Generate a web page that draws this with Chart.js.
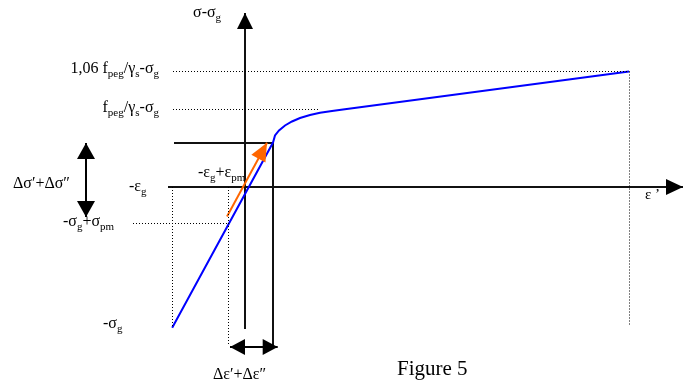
<!DOCTYPE html>
<html>
<head>
<meta charset="utf-8">
<script src="https://cdn.jsdelivr.net/npm/chart.js@4"></script>
<style>
  html, body { margin: 0; padding: 0; background: #ffffff; }
  canvas { display: block; }
</style>
</head>
<body>
<canvas id="c" width="688" height="382"></canvas>
<script>
// ---- Data (diagram units: strain on x, stress on y, origin at axis crossing) ----
const blueStrain = [-7.28, 2.8, 3.0, 3.4, 4.0, 4.7, 5.5, 6.5, 7.5, 8.7, 9.8, 38.4];
const blueStress = [-14.08, 4.45, 5.15, 5.65, 6.15, 6.55, 6.9, 7.2, 7.42, 7.6, 7.75, 11.55];

const orangeStrain = [-1.8, 2.2];
const orangeStress = [-2.95, 4.42];

// solid black segments: [x1, y1, x2, y2]
const axisStressSeg = [0, -14.2, 0, 17.4];
const axisStrainSeg = [-7.7, 0, 43.8, 0];
const boxTopSeg = [-7.1, 4.4, 2.8, 4.4];
const boxRightSeg = [2.8, 4.4, 2.8, -16.0];
const deltaSigmaSeg = [-15.9, 4.4, -15.9, -3.0];
const deltaEpsSeg = [-1.5, -16.0, 3.27, -16.0];

// dotted guide segments
const dottedTop = [-7.2, 11.55, 38.45, 11.55];
const dottedTopDrop = [38.45, 11.55, 38.45, -13.85];
const dottedYield = [-7.2, 7.75, 7.5, 7.75];
const dottedSigmaG = [-7.25, 0, -7.25, -14.1];
const dottedPmDrop = [-1.65, 0, -1.65, -15.75];
const dottedPm = [-11.2, -3.65, -1.65, -3.65];

// labels: text (with _{sub}), anchor x, anchor y (baseline)
const labelTexts = ['σ-σ_{g}', '1,06 f_{peg}/γ_{s}-σ_{g}', 'f_{peg}/γ_{s}-σ_{g}', 'Δσ′+Δσ″', '-ε_{g}',
                    '-ε_{g}+ε_{pm}', '-σ_{g}+σ_{pm}', '-σ_{g}', 'ε ’', 'Δε′+Δε″', 'Figure 5'];
const labelX = [-5.2, -8.6, -8.6, -23.2, -11.6, -4.7, -18.2, -14.2, 40.0, -3.2, 15.2];
const labelY = [17.0, 11.45, 7.55, -0.05, -0.35, 1.05, -3.85, -14.05, -1.15, -19.15, -18.75];
const labelAlign = ['left', 'right', 'right', 'left', 'left', 'left', 'left', 'left', 'left', 'left', 'left'];
const labelSize = [16, 16, 16, 16, 16, 16, 16, 16, 15, 16, 21];

// ---- build datasets ----
function seg(s) { return [{x: s[0], y: s[1]}, {x: s[2], y: s[3]}]; }
const BLACK = '#111111';
const datasets = [];
[dottedTop, dottedTopDrop, dottedYield, dottedSigmaG, dottedPmDrop, dottedPm].forEach(s => {
  datasets.push({ data: seg(s), showLine: true, borderColor: '#000', borderWidth: 1, borderDash: [1, 2], pointRadius: 0 });
});
datasets.push({ data: blueStrain.map((x, i) => ({x, y: blueStress[i]})), showLine: true,
  borderColor: '#0000ff', borderWidth: 2, pointRadius: 0, tension: 0 });
datasets.push({ data: [{x: orangeStrain[0], y: orangeStress[0]}, {x: orangeStrain[1], y: orangeStress[1]}],
  showLine: true, borderColor: '#ff6600', borderWidth: 2, pointRadius: 0, arrowEnd: [18, 8], headColor: '#ff6600' });
datasets.push({ data: seg(axisStressSeg), showLine: true, borderColor: BLACK, borderWidth: 2, pointRadius: 0, arrowEnd: [16, 8] });
datasets.push({ data: seg(axisStrainSeg), showLine: true, borderColor: BLACK, borderWidth: 2, pointRadius: 0, arrowEnd: [17, 8] });
datasets.push({ data: seg(boxTopSeg), showLine: true, borderColor: BLACK, borderWidth: 2, pointRadius: 0 });
datasets.push({ data: seg(boxRightSeg), showLine: true, borderColor: BLACK, borderWidth: 2, pointRadius: 0 });
datasets.push({ data: seg(deltaSigmaSeg), showLine: true, borderColor: '#000', borderWidth: 2, pointRadius: 0, arrowEnd: [16, 9], arrowStart: [16, 9] });
datasets.push({ data: seg(deltaEpsSeg), showLine: true, borderColor: '#000', borderWidth: 2, pointRadius: 0, arrowEnd: [15, 8], arrowStart: [15, 8] });

// ---- plugins ----
function head(ctx, tip, from, len, hw, color) {
  const dx = tip.x - from.x, dy = tip.y - from.y;
  const d = Math.hypot(dx, dy) || 1;
  const ux = dx / d, uy = dy / d;
  const bx = tip.x - ux * len, by = tip.y - uy * len;
  ctx.beginPath();
  ctx.moveTo(tip.x, tip.y);
  ctx.lineTo(bx - uy * hw, by + ux * hw);
  ctx.lineTo(bx + uy * hw, by - ux * hw);
  ctx.closePath();
  ctx.fillStyle = color;
  ctx.fill();
}
const arrowPlugin = {
  id: 'arrows',
  afterDatasetsDraw(chart) {
    const ctx = chart.ctx;
    chart.data.datasets.forEach((ds, i) => {
      const pts = chart.getDatasetMeta(i).data;
      if (pts.length < 2) return;
      const color = ds.headColor || '#000';
      ctx.save();
      if (ds.arrowEnd) head(ctx, pts[pts.length - 1], pts[pts.length - 2], ds.arrowEnd[0], ds.arrowEnd[1], color);
      if (ds.arrowStart) head(ctx, pts[0], pts[1], ds.arrowStart[0], ds.arrowStart[1], color);
      ctx.restore();
    });
  }
};
function parseRich(s) {
  const parts = [];
  const re = /_\{([^}]*)\}/g;
  let last = 0, m;
  while ((m = re.exec(s)) !== null) {
    if (m.index > last) parts.push({t: s.slice(last, m.index), sub: false});
    parts.push({t: m[1], sub: true});
    last = re.lastIndex;
  }
  if (last < s.length) parts.push({t: s.slice(last), sub: false});
  return parts;
}
const FAMILY = '"Liberation Serif", "Times New Roman", serif';
const labelPlugin = {
  id: 'labels',
  beforeDatasetsDraw(chart) {
    const ctx = chart.ctx, xs = chart.scales.x, ys = chart.scales.y;
    ctx.save();
    ctx.fillStyle = '#000';
    ctx.textBaseline = 'alphabetic';
    ctx.textAlign = 'left';
    labelTexts.forEach((txt, i) => {
      const size = labelSize[i];
      const subSize = Math.round(size * 0.68);
      const parts = parseRich(txt);
      let w = 0;
      parts.forEach(p => { ctx.font = (p.sub ? subSize : size) + 'px ' + FAMILY; p.w = ctx.measureText(p.t).width; w += p.w; });
      let x = xs.getPixelForValue(labelX[i]);
      const y = ys.getPixelForValue(labelY[i]);
      if (labelAlign[i] === 'right') x -= w;
      parts.forEach(p => {
        ctx.font = (p.sub ? subSize : size) + 'px ' + FAMILY;
        ctx.fillText(p.t, x, y + (p.sub ? Math.round(size * 0.25) : 0));
        x += p.w;
      });
    });
    ctx.restore();
  }
};

new Chart(document.getElementById('c'), {
  type: 'scatter',
  data: { datasets },
  options: {
    responsive: false,
    animation: false,
    devicePixelRatio: 1,
    layout: { padding: 0 },
    plugins: { legend: { display: false }, tooltip: { enabled: false } },
    elements: { point: { radius: 0 }, line: { borderCapStyle: 'butt' } },
    scales: {
      x: { type: 'linear', min: -24.5, max: 44.3, display: false },
      y: { type: 'linear', min: -19.5, max: 18.7, display: false }
    }
  },
  plugins: [labelPlugin, arrowPlugin]
});
</script>
</body>
</html>
